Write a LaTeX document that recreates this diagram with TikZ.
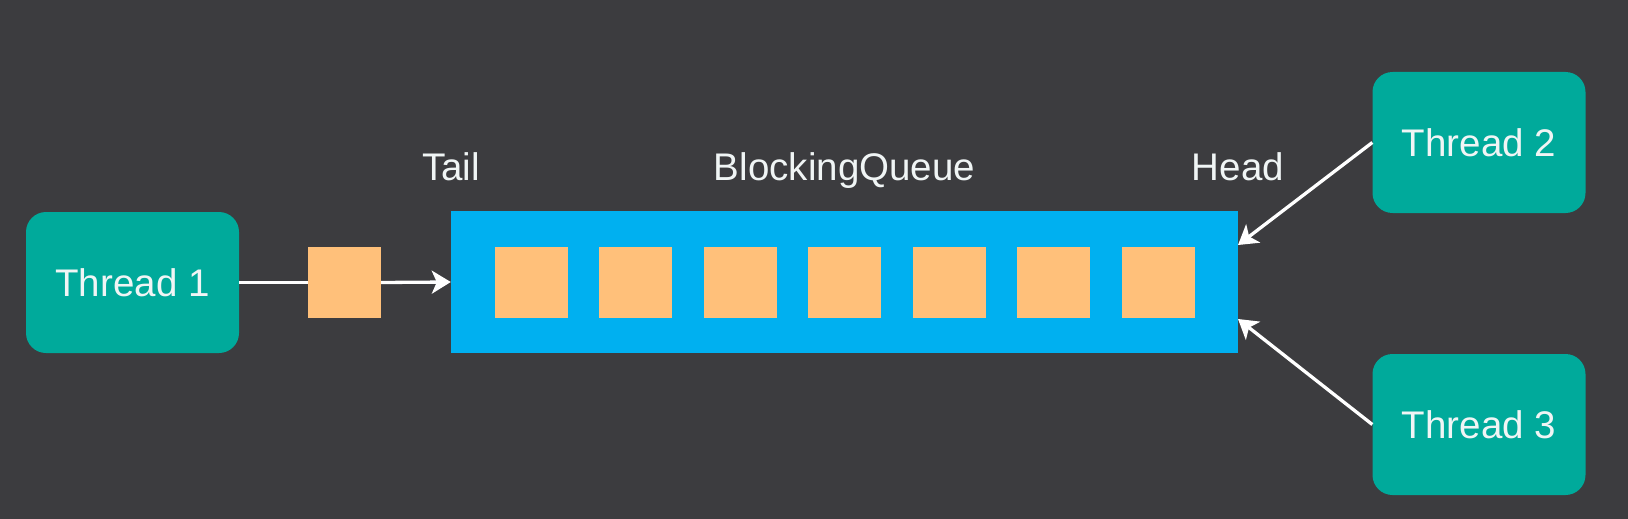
\documentclass[tikz,border=0pt]{standalone}
\usepackage{fontspec}
\setmainfont{Liberation Sans}
\usetikzlibrary{arrows.meta}
\definecolor{bgcol}{RGB}{60,60,63}
\definecolor{threadcol}{RGB}{0,170,155}
\definecolor{queuecol}{RGB}{0,176,240}
\definecolor{itemcol}{RGB}{255,192,122}
\definecolor{txtcol}{RGB}{240,245,245}
\begin{document}
\begin{tikzpicture}[x=1pt,y=-1pt,
  thread/.style={fill=threadcol, rounded corners=20pt, minimum width=213pt, minimum height=141pt, inner sep=0pt, text=txtcol, font=\fontsize{38.5}{40}\selectfont},
  queuebox/.style={fill=queuecol, minimum width=787pt, minimum height=142pt, inner sep=0pt},
  item/.style={fill=itemcol, minimum width=73pt, minimum height=71pt, inner sep=0pt},
  lbl/.style={text=txtcol, font=\fontsize{38.5}{40}\selectfont, anchor=base, inner sep=0pt},
  conn/.style={draw=white, line width=3.3pt},
  arr/.style={conn, arrows={-Stealth[length=19pt, width=23pt, inset=5pt]}}
]
\fill[bgcol] (0,0) rectangle (1628,519);
\useasboundingbox (0,0) rectangle (1628,519);
\node[thread] (t1) at (132.5,282.5) {Thread 1};
\node[thread] (t2) at (1479,142.5) {Thread 2};
\node[thread] (t3) at (1479,424.5) {Thread 3};
\node[queuebox] (q) at (844.5,282) {};
\foreach \i/\x in {1/531,2/635.5,3/740,4/844.5,5/949,6/1053.5,7/1158}
  \node[item] (i\i) at (\x,282.5) {};
\node[item] (sq) at (344.5,282.5) {};
\node[lbl] (tail) at (451,180) {Tail};
\node[lbl] (bq) at (844.5,180) {BlockingQueue};
\node[lbl] (head) at (1238,180) {Head};
\coordinate (h2) at (1238,245);
\coordinate (h3) at (1238,319);
\draw[conn] (t1.east) -- (sq.west);
\draw[arr] (sq.east) -- (q.west);
\draw[arr] (t2.west) -- (h2);
\draw[arr] (t3.west) -- (h3);
\end{tikzpicture}
\end{document}
